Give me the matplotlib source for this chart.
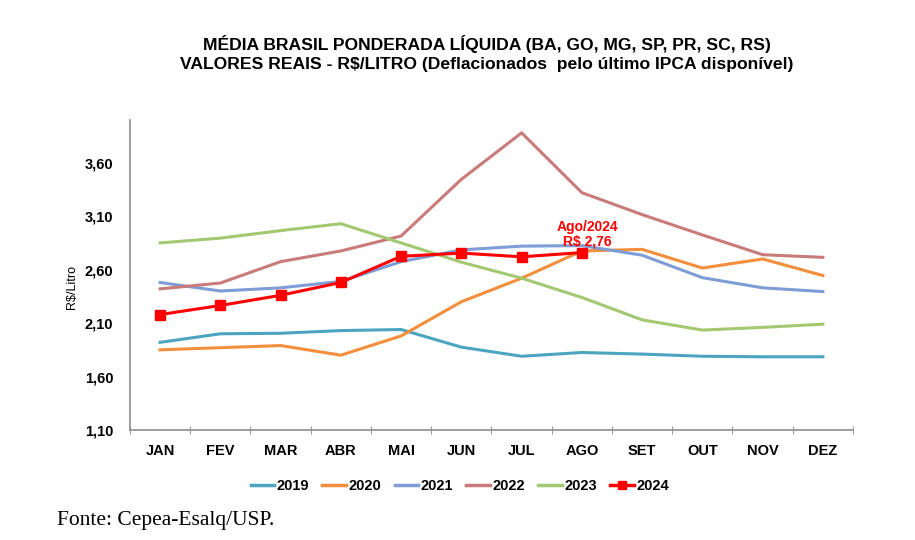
import matplotlib
matplotlib.use("Agg")
import matplotlib.pyplot as plt
from matplotlib.ticker import FixedLocator

months = ["JAN", "FEV", "MAR", "ABR", "MAI", "JUN", "JUL", "AGO", "SET", "OUT", "NOV", "DEZ"]
y2019 = [1.92, 2.00, 2.005, 2.03, 2.04, 1.875, 1.79, 1.825, 1.81, 1.79, 1.785, 1.785]
y2020 = [1.85, 1.87, 1.89, 1.80, 1.98, 2.30, 2.52, 2.775, 2.79, 2.615, 2.70, 2.545]
y2021 = [2.48, 2.40, 2.43, 2.49, 2.675, 2.785, 2.82, 2.825, 2.735, 2.525, 2.43, 2.395]
y2022 = [2.42, 2.475, 2.675, 2.775, 2.915, 3.445, 3.88, 3.32, 3.115, 2.925, 2.74, 2.715]
y2023 = [2.85, 2.895, 2.965, 3.03, 2.85, 2.67, 2.52, 2.34, 2.13, 2.035, 2.06, 2.09]
y2024 = [2.18, 2.265, 2.36, 2.48, 2.725, 2.755, 2.72, 2.76]
yticks = [1.10, 1.60, 2.10, 2.60, 3.10, 3.60]
ytick_labels = ["1,10", "1,60", "2,10", "2,60", "3,10", "3,60"]

series = [
    ("2019", y2019, "#4BA5C0"),
    ("2020", y2020, "#F28E3C"),
    ("2021", y2021, "#7E9DD6"),
    ("2022", y2022, "#C97B7A"),
    ("2023", y2023, "#A3C872"),
]

FONT = "Liberation Sans"

fig = plt.figure(figsize=(9.15, 5.4), dpi=100)
ax = fig.add_axes([130/915, 1-430/540, (853-130)/915, (430-120)/540])

x = list(range(len(months)))
for name, vals, col in series:
    ax.plot(x[:len(vals)], vals, color=col, lw=2.2, label=name)
ax.plot(x[:len(y2024)], y2024, color="#FF0000", lw=2.2, marker="s", ms=7, label="2024")

ax.set_xlim(-0.5, 11.5)
ax.set_ylim(1.10, 4.00)
ax.set_yticks(yticks)
ax.set_yticklabels(ytick_labels, fontsize=10.5, fontweight="bold", family=FONT)
ax.set_xticks(x)
ax.set_xticklabels(months, fontsize=10.5, fontweight="bold", family=FONT)
ax.xaxis.set_minor_locator(FixedLocator([i - 0.5 for i in range(13)]))
ax.tick_params(axis="x", which="major", length=0, pad=10)
ax.tick_params(axis="x", which="minor", length=6, color="#8c8c8c", direction="inout")
ax.tick_params(axis="y", length=0, pad=12)
for s in ["top", "right"]:
    ax.spines[s].set_visible(False)
for s in ["left", "bottom"]:
    ax.spines[s].set_color("#8c8c8c")
    ax.spines[s].set_linewidth(1.2)

ax.set_ylabel("R$/Litro", fontsize=9, family=FONT)
ax.yaxis.set_label_coords(-0.072, 0.46)

ax.annotate("Ago/2024\nR$ 2,76", xy=(7, y2024[-1]), xytext=(4, 3), textcoords="offset points",
            ha="center", va="bottom", color="#FF0000", fontsize=10, fontweight="bold",
            family=FONT, linespacing=1.05)

fig.text(487/915, 1-44/540, "MÉDIA BRASIL PONDERADA LÍQUIDA (BA, GO, MG, SP, PR, SC, RS)",
         ha="center", va="center", fontsize=12.6, fontweight="bold", family=FONT)
fig.text(487/915, 1-65/540, "VALORES REAIS - R$/LITRO (Deflacionados  pelo último IPCA disponível)",
         ha="center", va="center", fontsize=12.6, fontweight="bold", family=FONT)

leg = fig.legend(loc="center", bbox_to_anchor=(460/915, 1-486/540), ncol=6, frameon=False,
                 handlelength=1.6, handletextpad=0.2, columnspacing=0.9,
                 prop={"family": FONT, "weight": "bold", "size": 10.5})
for h in leg.legend_handles:
    h.set_linewidth(2.5)
    h.set_markersize(6)

fig.text(57/915, 1-520/540, "Fonte: Cepea-Esalq/USP.", ha="left", va="center",
         fontsize=15.5, family="Liberation Serif")

fig.savefig("out.png", dpi=100, facecolor="white")
